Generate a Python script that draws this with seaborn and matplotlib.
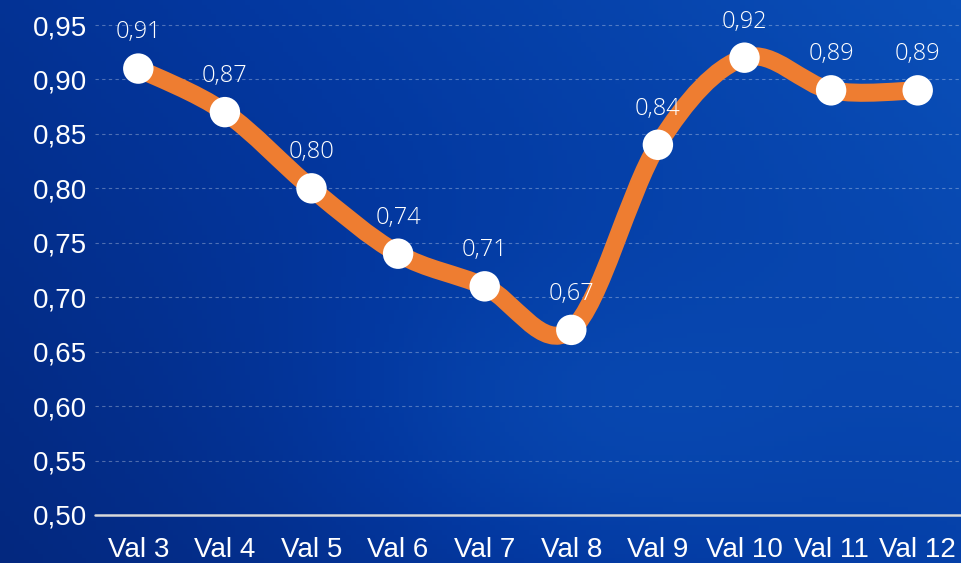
import numpy as np
import matplotlib
matplotlib.use("Agg")
import matplotlib.pyplot as plt
import seaborn as sns
import pandas as pd
from matplotlib.path import Path
from matplotlib.patches import PathPatch
from matplotlib.colors import LinearSegmentedColormap

# ── Data ─────────────────────────────────────────────────────
categories = ["Val 3", "Val 4", "Val 5", "Val 6", "Val 7",
              "Val 8", "Val 9", "Val 10", "Val 11", "Val 12"]
values = [0.91, 0.87, 0.80, 0.74, 0.71, 0.67, 0.84, 0.92, 0.89, 0.89]
y_ticks = [0.50, 0.55, 0.60, 0.65, 0.70, 0.75, 0.80, 0.85, 0.90, 0.95]

df = pd.DataFrame({"cat": categories, "val": values})
df["pos"] = range(len(df))

sns.set_theme(style="white")
plt.rcParams["font.family"] = ["Liberation Sans", "DejaVu Sans"]

fig = plt.figure(figsize=(9.61, 5.63), dpi=100)

# ── Background gradient ──────────────────────────────────────
bg = fig.add_axes([0, 0, 1, 1])
gx, gy = np.meshgrid(np.linspace(0, 1, 200), np.linspace(0, 1, 120))
field = 0.55 * gx + 0.45 * (1 - gy) * 0.6 + 0.25 * np.exp(-((gx - 0.6) ** 2 + (gy - 0.75) ** 2) / 0.08)
cmap = LinearSegmentedColormap.from_list("bgblue", ["#03287f", "#0338a0", "#0a4fb8"])
bg.imshow(field, cmap=cmap, aspect="auto", extent=[0, 1, 0, 1], origin="upper")
bg.axis("off")

# ── Main axes ────────────────────────────────────────────────
ax = fig.add_axes([95 / 961, 48 / 563, 866 / 961, 515 / 563])
ax.set_facecolor("none")
ax.set_xlim(-0.5, len(categories) - 0.5)
ax.set_ylim(0.5, 0.95 + 25 / 54.4 * 0.05)

# smooth line via Catmull-Rom -> cubic bezier
pts = df[["pos", "val"]].to_numpy(dtype=float)
ext = np.vstack([pts[0], pts, pts[-1]])
verts = [tuple(pts[0])]
codes = [Path.MOVETO]
for i in range(1, len(ext) - 2):
    p0, p1, p2, p3 = ext[i - 1], ext[i], ext[i + 1], ext[i + 2]
    c1 = p1 + (p2 - p0) / 6
    c2 = p2 - (p3 - p1) / 6
    verts += [tuple(c1), tuple(c2), tuple(p2)]
    codes += [Path.CURVE4] * 3
ax.add_patch(PathPatch(Path(verts, codes), facecolor="none",
                       edgecolor="#ee7d31", lw=13, capstyle="round",
                       joinstyle="round", zorder=3))

sns.scatterplot(data=df, x="pos", y="val", s=480, color="white",
                edgecolor="none", zorder=4, ax=ax, legend=False)

for p, v in zip(df["pos"], df["val"]):
    ax.annotate(f"{v:.2f}".replace(".", ","), (p, v), xytext=(0, 26),
                textcoords="offset points", ha="center", va="center",
                color="white", fontsize=17, family=["Open Sans", "DejaVu Sans"],
                fontweight="light", zorder=5)

# grid and axes styling
for t in y_ticks[1:]:
    ax.axhline(t, color="white", alpha=0.3, lw=0.8, ls=(0, (3, 3)), zorder=1)
ax.axhline(0.5, color="#d9d9d9", lw=1.8, zorder=2, clip_on=False)

ax.set_yticks(y_ticks)
ax.set_yticklabels([f"{t:.2f}".replace(".", ",") for t in y_ticks])
ax.set_xticks(df["pos"])
ax.set_xticklabels(categories)
ax.tick_params(axis="both", colors="white", labelsize=20, length=0)
ax.tick_params(axis="y", pad=6)
ax.tick_params(axis="x", pad=16)
for s in ax.spines.values():
    s.set_visible(False)
ax.set_xlabel("")
ax.set_ylabel("")

fig.savefig("out.png", dpi=100)
